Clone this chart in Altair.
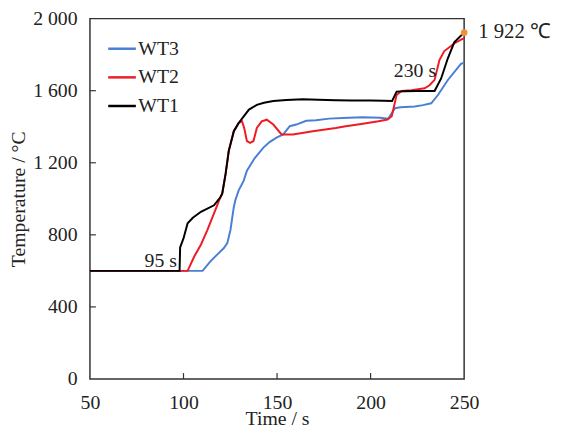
import altair as alt
import pandas as pd

# ---- data ----
wt1_t = [50, 97.9, 98.2, 100, 102.2, 105, 109.3, 116.3, 119.8, 120.7, 122.5, 124.2, 126.9, 129.5, 132.2, 135, 139.2, 143, 148, 155, 163.8, 172, 181.4, 190, 200, 207, 211.5, 213.9, 218, 225, 234.2, 237.7, 241.2, 244.7, 249.1, 250]
wt1_T = [600, 600, 730, 780, 864, 895, 928, 964, 1010, 1028, 1138, 1266, 1375, 1421, 1458, 1495, 1521, 1533, 1543, 1548, 1552, 1550, 1547, 1546, 1545, 1544, 1543, 1595, 1597, 1598, 1598, 1668, 1777, 1868, 1914, 1922]

wt2_t = [50, 102.2, 105.8, 109.3, 112.8, 116.3, 119.8, 120.7, 122.5, 124.2, 126.9, 129.5, 131.3, 132.5, 133.9, 135.6, 137.4, 139.2, 141.8, 144.5, 148, 152.4, 158.5, 169.1, 181.4, 186.7, 195, 204.2, 209, 211.3, 213.9, 216.5, 221.8, 228.9, 231.5, 234.2, 236.8, 239.4, 244.7, 249.1, 250]
wt2_T = [600, 600, 681, 745, 827, 919, 1010, 1028, 1138, 1266, 1375, 1421, 1430, 1390, 1320, 1311, 1321, 1393, 1430, 1439, 1412, 1357, 1357, 1375, 1393, 1403, 1415, 1430, 1440, 1458, 1576, 1598, 1603, 1613, 1630, 1660, 1770, 1820, 1862, 1887, 1890]

wt3_t = [50, 110.2, 114.5, 118, 121.6, 123.4, 125.1, 126.9, 127.7, 129.5, 132.2, 133.9, 138, 142.7, 146, 149.7, 153.3, 156.8, 160.3, 165.6, 170.8, 177.9, 185, 195.5, 205, 209.5, 213, 216, 223.6, 228, 232.4, 236, 241.2, 248.3, 250]
wt3_T = [600, 600, 654, 690, 727, 754, 827, 955, 992, 1047, 1101, 1156, 1225, 1284, 1315, 1339, 1357, 1403, 1412, 1433, 1436, 1445, 1448, 1452, 1450, 1445, 1503, 1508, 1512, 1520, 1530, 1576, 1658, 1749, 1755]

series_names = ["WT3", "WT2", "WT1"]
series_colors = ["#4a7fd4", "#ee1c25", "#000000"]

x_ticks = [100, 150, 200]
y_ticks = [400, 800, 1200, 1600]

ann_t = [96.5, 235, 257.5]
ann_T = [622, 1675, 1893]
ann_text = ["95 s", "230 s", "1 922 \u2103"]
ann_align = ["right", "right", "left"]

peak_t = [250]
peak_T = [1922]

rows = []
for name, ts, Ts in [("WT3", wt3_t, wt3_T), ("WT2", wt2_t, wt2_T), ("WT1", wt1_t, wt1_T)]:
    for i, (t, T) in enumerate(zip(ts, Ts)):
        rows.append({"series": name, "t": t, "T": T, "i": i})
df = pd.DataFrame(rows)

FONT = "Liberation Serif"
FS = 20

x_scale = alt.Scale(domain=[50, 250], nice=False)
y_scale = alt.Scale(domain=[0, 2000], nice=False)

lab_expr = "replace(format(datum.value, ','), ',', ' ')"

lines = alt.Chart(df).mark_line(strokeWidth=2).encode(
    x=alt.X("t:Q", scale=x_scale,
            axis=alt.Axis(title="Time / s", values=[50, 100, 150, 200, 250], ticks=False, domain=False,
                          grid=False, labelPadding=14, titlePadding=-4, labelFlush=False,
                          labelFont=FONT, labelFontSize=FS, labelColor="#222",
                          titleFont=FONT, titleFontSize=FS, titleFontWeight="normal", titleColor="#222")),
    y=alt.Y("T:Q", scale=y_scale,
            axis=alt.Axis(title="Temperature / \u00b0C", values=[0, 400, 800, 1200, 1600, 2000], ticks=False,
                          domain=False, grid=False, labelPadding=13, titlePadding=4, labelExpr=lab_expr,
                          labelFlush=False,
                          labelFont=FONT, labelFontSize=FS, labelColor="#222",
                          titleFont=FONT, titleFontSize=FS, titleFontWeight="normal", titleColor="#222")),
    color=alt.Color("series:N", sort=series_names,
                    scale=alt.Scale(domain=series_names, range=series_colors),
                    legend=alt.Legend(title=None, orient="none", legendX=17, legendY=15,
                                      symbolType="stroke", symbolSize=784, symbolStrokeWidth=2.5,
                                      labelFont=FONT, labelFontSize=FS, labelColor="#222",
                                      labelOffset=1, rowPadding=3, padding=0)),
    detail="series:N",
    order="i:Q",
)

ydf = pd.DataFrame({"v": y_ticks})
ytick = alt.Chart(ydf).mark_rule(color="#333", strokeWidth=1.2).encode(
    y=alt.Y("v:Q", scale=y_scale), x=alt.value(0), x2=alt.value(6))
xdf = pd.DataFrame({"v": x_ticks})
xtick = alt.Chart(xdf).mark_rule(color="#333", strokeWidth=1.2).encode(
    x=alt.X("v:Q", scale=x_scale), y=alt.value(365), y2=alt.value(359))

adf = pd.DataFrame({"t": ann_t, "T": ann_T, "txt": ann_text, "al": ann_align})
ann_r = alt.Chart(adf[adf.al == "right"]).mark_text(font=FONT, fontSize=FS, align="right", baseline="alphabetic",
                                                   color="#222").encode(
    x=alt.X("t:Q", scale=x_scale), y=alt.Y("T:Q", scale=y_scale), text="txt:N")
ann_l = alt.Chart(adf[adf.al == "left"]).mark_text(font=FONT, fontSize=21, align="left", baseline="alphabetic",
                                                  color="#222").encode(
    x=alt.X("t:Q", scale=x_scale), y=alt.Y("T:Q", scale=y_scale), text="txt:N")

pdf = pd.DataFrame({"t": peak_t, "T": peak_T})
peak = alt.Chart(pdf).mark_circle(color="#f0913a", size=45, opacity=1).encode(
    x=alt.X("t:Q", scale=x_scale), y=alt.Y("T:Q", scale=y_scale))

chart = alt.layer(lines, ytick, xtick, ann_r, ann_l, peak).properties(
    width=379, height=365,
    background="white",
    autosize=alt.AutoSizeParams(type="none"),
    padding={"left": 83, "top": 8, "right": 90, "bottom": 56},
).configure_view(stroke="#333", strokeWidth=1.5).configure_legend(
    labelFont=FONT, labelFontSize=FS, labelColor="#222")

chart.save("out.html", embed_options={"renderer": "svg", "actions": False})
